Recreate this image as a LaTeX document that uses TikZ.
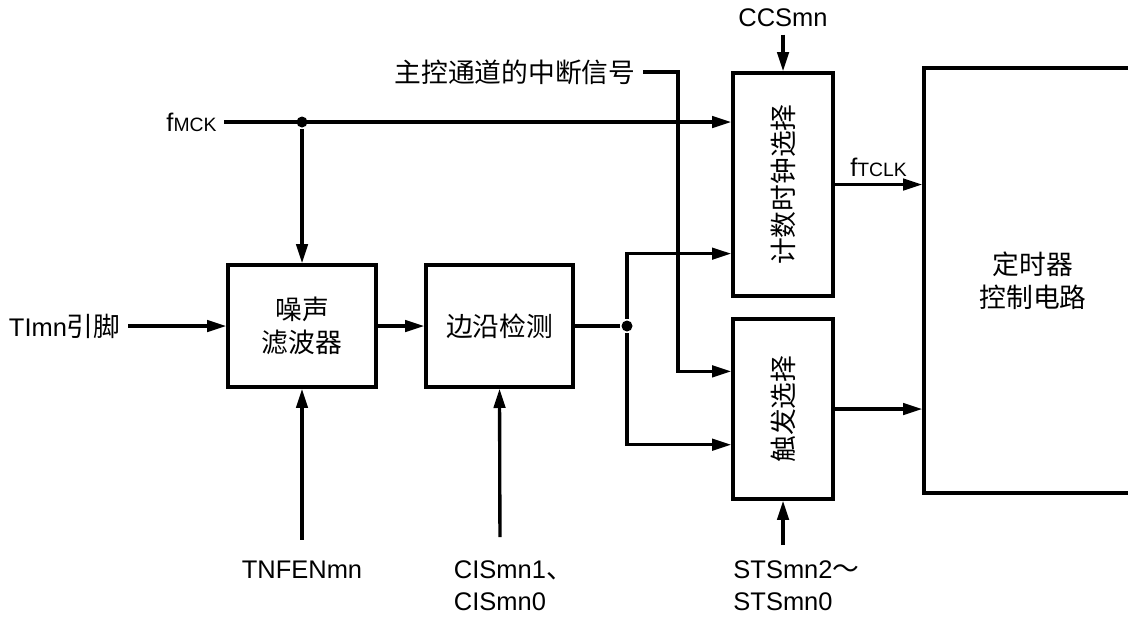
\documentclass[tikz,border=0pt]{standalone}
\usepackage{fontspec}
\setmainfont{Liberation Sans}
\newfontfamily\cjk[Scale=1.05]{Noto Sans CJK SC}
\usetikzlibrary{arrows.meta}

\begin{document}
\begin{tikzpicture}[x=0.02cm, y=-0.02cm, line width=1.9pt,
  font=\fontsize{14.5}{18.5}\selectfont,
  zh/.style={font=\fontsize{14.5}{19}\selectfont\cjk},
  blk/.style={draw, align=center},
  sig/.style={-{Triangle[length=11pt,width=6.5pt]}},
  dot/.style={circle, fill, inner sep=0pt, minimum size=0.22cm}]
  \clip (0,0) rectangle (1128,616);
  % blocks
  \node[blk, zh, minimum width=2.96cm, minimum height=2.44cm] (nf) at (302,326) {噪声\\滤波器};
  \node[blk, zh, minimum width=2.94cm, minimum height=2.44cm] (ed) at (499.5,326) {边沿检测};
  \node[blk, minimum width=2cm, minimum height=4.46cm] (clk) at (783,184.5) {};
  \node[zh, rotate=90] (clktxt) at (clk) {计数时钟选择};
  \node[blk, minimum width=2cm, minimum height=3.6cm] (trg) at (783,409) {};
  \node[zh, rotate=90] (trgtxt) at (trg) {触发选择};
  \node[blk, zh, minimum width=4.36cm, minimum height=8.5cm] (tcu) at (1033,280.5) {定时器\\控制电路};
  % signal names
  \node[anchor=east] (fmck) at (224,122) {f{\fontsize{11}{13}\selectfont MCK}};
  \node[anchor=east] (tipin) at (128,326) {TImn{\cjk 引脚}};
  \node[zh, anchor=east] (intr) at (643,72) {主控通道的中断信号};
  \node (ccs) at (783,18) {CCSmn};
  \node (tnfen) at (302,570) {TNFENmn};
  \node[align=center, anchor=north] (cis) at (500,553) {CISmn1\rlap{\cjk 、}\\CISmn0};
  \node[align=center, anchor=north] (sts) at (783,553) {STSmn2\rlap{\cjk ～}\\STSmn0};
  % branch points
  \node[dot] (mckdot) at (302,122) {};
  \node[dot] (eddot) at (627,326) {};
  \coordinate (intrbend) at (678,72);
  % connections
  \draw[sig] (fmck.east) -- (clk.west |- fmck.east);
  \draw[sig] (mckdot) -- (nf.north);
  \draw[sig] (tipin.east) -- (nf.west);
  \draw[sig] (nf.east) -- (ed.west);
  \draw (ed.east) -- (eddot);
  \draw[sig] (eddot) |- ([yshift=0.88cm]clk.south west);
  \draw[sig] (eddot) |- ([yshift=1.12cm]trg.south west);
  \draw[sig] (intr.east) -- (intrbend) |- ([yshift=-1.08cm]trg.north west);
  \draw[sig] (ccs.south) -- (clk.north);
  \draw[sig] (clk.east) -- (tcu.west |- clk.east) node[midway, above] (ftclk) {f{\fontsize{11}{13}\selectfont TCLK}};
  \draw[sig] (trg.east) -- (tcu.west |- trg.east);
  \draw[sig, shorten <=8pt] (tnfen.north) -- (nf.south);
  \draw[sig, shorten <=9pt] (cis.north) -- (ed.south);
  \draw[sig, shorten <=4.5pt] (sts.north) -- (trg.south);
\end{tikzpicture}
\end{document}
